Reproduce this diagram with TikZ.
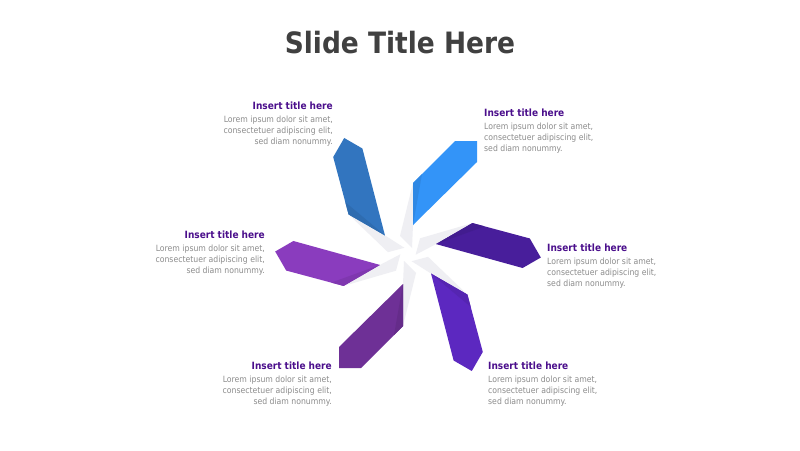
\documentclass[tikz,border=0pt]{standalone}
\usepackage{fontspec}
\setmainfont{DejaVu Sans Condensed}
\newfontfamily\titlefont{DejaVu Sans Condensed}
\definecolor{titlegrey}{RGB}{64,64,64}
\definecolor{headpurple}{RGB}{75,15,140}
\definecolor{bodygrey}{RGB}{140,140,140}
\definecolor{spikegrey}{RGB}{239,239,243}
\definecolor{armA}{RGB}{51,148,248}
\definecolor{armB}{RGB}{72,30,155}
\definecolor{armC}{RGB}{92,40,192}
\definecolor{armD}{RGB}{110,48,150}
\definecolor{armE}{RGB}{138,60,190}
\definecolor{armF}{RGB}{50,117,191}
\tikzset{
  head/.style={inner sep=0pt, font=\bfseries\fontsize{10}{12}\selectfont, text=headpurple},
  body/.style={inner sep=0pt, font=\fontsize{8.6}{11}\selectfont, text=bodygrey},
}
\newcommand\drawarm[2]{%
  \begin{scope}[shift={(408,254.5)}, rotate=#1]
    \fill[spikegrey] (5,-71.5) -- (-8,-18.5) -- (4,-6.5) -- (5,-29.5) -- cycle;
    \fill[#2] (5,-71.5) -- (47,-113.5) -- (69,-113.5) -- (69,-92.5) -- (5,-29.5) -- cycle;
    \fill[#2!92!black] (5,-71.5) -- (14,-80.5) -- (5,-29.5) -- cycle;
  \end{scope}}
\begin{document}
\begin{tikzpicture}[x=1pt,y=-1pt]
\useasboundingbox[fill=white] (0,0) rectangle (800,450);
\node[inner sep=0pt, font=\titlefont\bfseries\fontsize{29.4}{35}\selectfont, text=titlegrey, anchor=base] (title) at (400,53) {Slide Title Here};
\drawarm{0}{armA}
\drawarm{-60}{armB}
\drawarm{-120}{armC}
\drawarm{180}{armD}
\drawarm{120}{armE}
\drawarm{60}{armF}
% top-left
\node[head, anchor=base east] (h1) at (333,109) {Insert title here};
\node[body, anchor=north east, align=right] (b1) at (333,116) {Lorem ipsum dolor sit amet,\\consectetuer adipiscing elit,\\sed diam nonummy.};
% top-right
\node[head, anchor=base west] (h2) at (484,116) {Insert title here};
\node[body, anchor=north west, align=left] (b2) at (484,123) {Lorem ipsum dolor sit amet,\\consectetuer adipiscing elit,\\sed diam nonummy.};
% left
\node[head, anchor=base east] (h3) at (265,238) {Insert title here};
\node[body, anchor=north east, align=right] (b3) at (265,245) {Lorem ipsum dolor sit amet,\\consectetuer adipiscing elit,\\sed diam nonummy.};
% right
\node[head, anchor=base west] (h4) at (547,251) {Insert title here};
\node[body, anchor=north west, align=left] (b4) at (547,258) {Lorem ipsum dolor sit amet,\\consectetuer adipiscing elit,\\sed diam nonummy.};
% bottom-left
\node[head, anchor=base east] (h5) at (332,369) {Insert title here};
\node[body, anchor=north east, align=right] (b5) at (332,376) {Lorem ipsum dolor sit amet,\\consectetuer adipiscing elit,\\sed diam nonummy.};
% bottom-right
\node[head, anchor=base west] (h6) at (488,369) {Insert title here};
\node[body, anchor=north west, align=left] (b6) at (488,376) {Lorem ipsum dolor sit amet,\\consectetuer adipiscing elit,\\sed diam nonummy.};
\end{tikzpicture}
\end{document}
